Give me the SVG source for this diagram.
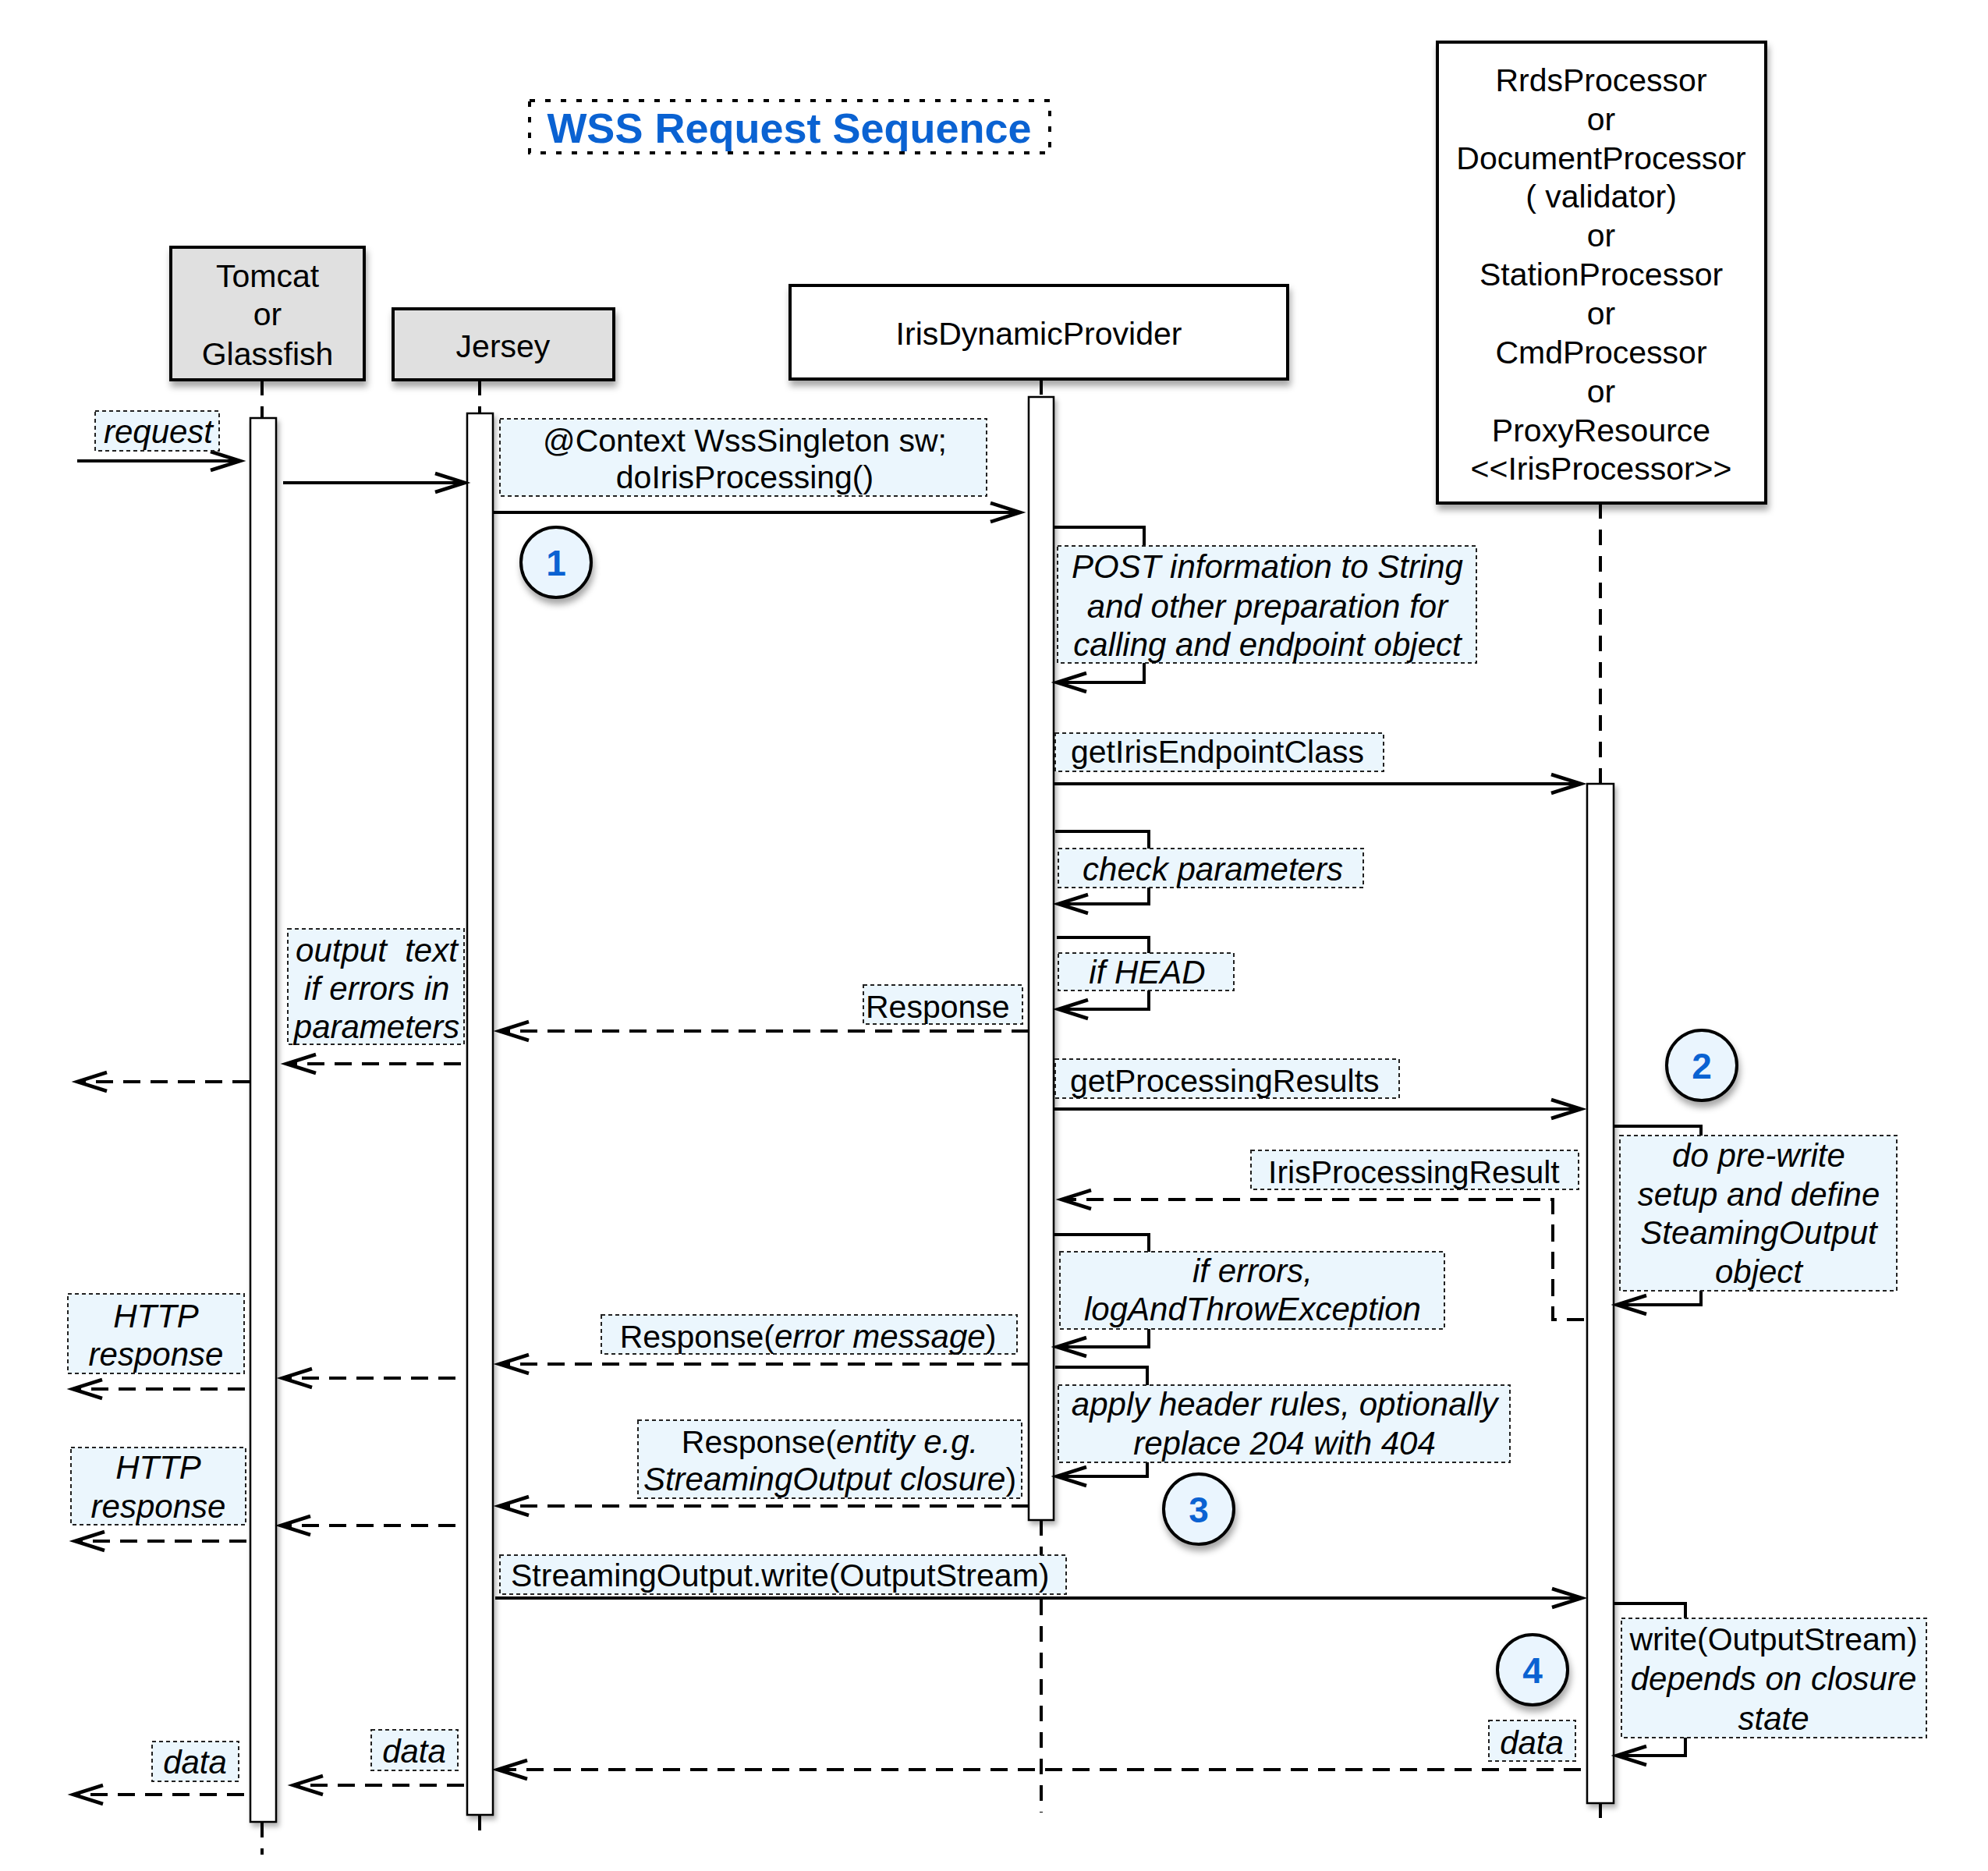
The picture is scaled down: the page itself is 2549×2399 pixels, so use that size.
<svg xmlns="http://www.w3.org/2000/svg" width="2549" height="2399" viewBox="0 0 2549 2399">
<style>
text{font-family:"Liberation Sans",Arial,Helvetica,sans-serif;font-size:41px;fill:#000}
.i{font-style:italic;font-size:42px}
.c{text-anchor:middle}
.num{font-weight:bold;font-size:46px;fill:#0a62d2;text-anchor:middle}
.lbl{fill:#ebf6fd;stroke:#222;stroke-width:2;stroke-dasharray:5 4}
.head{stroke:#000;stroke-width:4;filter:url(#sh)}
.bar{fill:#fff;stroke:#000;stroke-width:2.5;filter:url(#shb)}
.life{stroke:#000;stroke-width:4;stroke-dasharray:20 14;fill:none}
.msg{stroke:#000;stroke-width:4;fill:none;marker-end:url(#ah)}
.ret{stroke-dasharray:22 13}
.circ{fill:#eaf5fe;stroke:#000;stroke-width:4;filter:url(#sh)}
</style>
<defs>
<filter id="sh" x="-10%" y="-10%" width="125%" height="140%"><feDropShadow dx="2" dy="7" stdDeviation="4" flood-color="#000" flood-opacity="0.35"/></filter>
<filter id="shb" x="-60%" y="-2%" width="230%" height="105%"><feDropShadow dx="3" dy="5" stdDeviation="3" flood-color="#000" flood-opacity="0.3"/></filter>
<marker id="ah" markerUnits="userSpaceOnUse" markerWidth="50" markerHeight="40" viewBox="-45 -20 50 40" refX="0" refY="0" orient="auto" overflow="visible"><path d="M-38,-12 L0,0 L-38,12" fill="none" stroke="#000" stroke-width="4.5" stroke-dasharray="none"/></marker>
</defs>
<rect width="2549" height="2399" fill="#fff"/>

<g id="title">
<rect x="679" y="129" width="667" height="67" fill="none" stroke="#000" stroke-width="4" stroke-dasharray="7 13"/>
<text x="1012" y="183" class="c" style="font-weight:bold;font-size:54px;fill:#0a62d2">WSS Request Sequence</text>
</g>

<g id="lifelines">
<path class="life" d="M336,487 V536 M336,2336 V2378"/>
<path class="life" d="M615,487 V530 M615,2327 V2356"/>
<path class="life" d="M1335,486 V509 M1335,1949 V2324"/>
<path class="life" d="M2052,645 V1005 M2052,2312 V2331"/>
</g>

<g id="tomcat">
<rect class="head" x="219" y="317" width="248" height="170" fill="#e0e0e0"/>
<text x="343" y="368" class="c">Tomcat</text>
<text x="343" y="417" class="c">or</text>
<text x="343" y="468" class="c">Glassfish</text>
<rect class="bar" x="321" y="536" width="33" height="1800"/>
</g>

<g id="jersey">
<rect class="head" x="504" y="396" width="283" height="91" fill="#e0e0e0"/>
<text x="645" y="458" class="c">Jersey</text>
<rect class="bar" x="599" y="530" width="33" height="1797"/>
</g>

<g id="irisDynamicProvider">
<rect class="head" x="1013" y="366" width="638" height="120" fill="#fff"/>
<text x="1332" y="442" class="c">IrisDynamicProvider</text>
<rect class="bar" x="1319" y="509" width="32" height="1440"/>
</g>

<g id="irisProcessor">
<rect class="head" x="1843" y="54" width="421" height="591" fill="#fff"/>
<text x="2053" y="117" class="c">RrdsProcessor</text>
<text x="2053" y="167" class="c">or</text>
<text x="2053" y="217" class="c">DocumentProcessor</text>
<text x="2053" y="266" class="c">( validator)</text>
<text x="2053" y="316" class="c">or</text>
<text x="2053" y="366" class="c">StationProcessor</text>
<text x="2053" y="416" class="c">or</text>
<text x="2053" y="466" class="c">CmdProcessor</text>
<text x="2053" y="516" class="c">or</text>
<text x="2053" y="566" class="c">ProxyResource</text>
<text x="2053" y="615" class="c">&lt;&lt;IrisProcessor&gt;&gt;</text>
<rect class="bar" x="2035" y="1005" width="34" height="1307"/>
</g>

<g id="connectors">
<path class="msg" d="M99,591 H308"/>
<path class="msg" d="M363,619 H596"/>
<path class="msg" d="M632,657 H1308"/>
<path class="msg" d="M1351,676 H1467 V875 H1355"/>
<path class="msg" d="M1351,1005 H2027"/>
<path class="msg" d="M1353,1066 H1473 V1159 H1357"/>
<path class="msg" d="M1355,1202 H1473 V1294 H1357"/>
<path class="msg ret" d="M1319,1322 H640"/>
<path class="msg ret" d="M591,1364 H367"/>
<path class="msg ret" d="M320,1387 H99"/>
<path class="msg" d="M1351,1422 H2027"/>
<path class="msg" d="M2069,1444 H2181 V1673 H2073"/>
<path class="msg ret" d="M2031,1692 H1991 V1538 H1361"/>
<path class="msg" d="M1351,1583 H1473 V1727 H1355"/>
<path class="msg ret" d="M1319,1749 H640"/>
<path class="msg ret" d="M584,1767 H362"/>
<path class="msg ret" d="M314,1781 H93"/>
<path class="msg" d="M1353,1753 H1471 V1893 H1355"/>
<path class="msg ret" d="M1319,1931 H640"/>
<path class="msg ret" d="M584,1956 H360"/>
<path class="msg ret" d="M316,1976 H96"/>
<path class="msg" d="M635,2049 H2028"/>
<path class="msg" d="M2069,2056 H2161 V2251 H2073"/>
<path class="msg ret" d="M2027,2269 H638"/>
<path class="msg ret" d="M595,2289 H376"/>
<path class="msg ret" d="M313,2301 H94"/>
</g>

<g id="labels">
<g id="lbl-request"><rect class="lbl" x="122" y="527" width="159" height="51"/><text x="203" y="568" class="i c">request</text></g>
<g id="lbl-context"><rect class="lbl" x="641" y="537" width="624" height="99"/><text x="955" y="579" class="c">@Context WssSingleton sw;</text><text x="955" y="626" class="c">doIrisProcessing()</text></g>
<g id="lbl-post"><rect class="lbl" x="1356" y="700" width="537" height="150"/><text x="1625" y="741" class="i c">POST information to String</text><text x="1625" y="792" class="i c">and other preparation for</text><text x="1625" y="841" class="i c">calling and endpoint object</text></g>
<g id="lbl-getiris"><rect class="lbl" x="1353" y="940" width="421" height="49"/><text x="1373" y="978">getIrisEndpointClass</text></g>
<g id="lbl-check"><rect class="lbl" x="1357" y="1088" width="391" height="50"/><text x="1555" y="1129" class="i c">check parameters</text></g>
<g id="lbl-head"><rect class="lbl" x="1357" y="1222" width="225" height="48"/><text x="1471" y="1261" class="i c">if HEAD</text></g>
<g id="lbl-response"><rect class="lbl" x="1107" y="1263" width="204" height="50"/><text x="1110" y="1305">Response</text></g>
<g id="lbl-output"><rect class="lbl" x="369" y="1191" width="226" height="148"/><text x="483" y="1233" class="i c" xml:space="preserve">output  text</text><text x="483" y="1282" class="i c">if errors in</text><text x="483" y="1331" class="i c">parameters</text></g>
<g id="lbl-getproc"><rect class="lbl" x="1353" y="1358" width="441" height="50"/><text x="1372" y="1400">getProcessingResults</text></g>
<g id="lbl-irisresult"><rect class="lbl" x="1604" y="1475" width="420" height="50"/><text x="1626" y="1517">IrisProcessingResult</text></g>
<g id="lbl-prewrite"><rect class="lbl" x="2077" y="1456" width="355" height="199"/><text x="2255" y="1496" class="i c">do pre-write</text><text x="2255" y="1546" class="i c">setup and define</text><text x="2255" y="1595" class="i c">SteamingOutput</text><text x="2255" y="1645" class="i c">object</text></g>
<g id="lbl-iferrors"><rect class="lbl" x="1359" y="1605" width="493" height="99"/><text x="1606" y="1644" class="i c">if errors,</text><text x="1606" y="1693" class="i c">logAndThrowException</text></g>
<g id="lbl-resperr"><rect class="lbl" x="771" y="1686" width="533" height="50"/><text x="1036" y="1728" class="c">Response(<tspan class="i">error message</tspan>)</text></g>
<g id="lbl-http1"><rect class="lbl" x="87" y="1659" width="226" height="102"/><text x="200" y="1702" class="i c">HTTP</text><text x="200" y="1751" class="i c">response</text></g>
<g id="lbl-apply"><rect class="lbl" x="1357" y="1776" width="579" height="99"/><text x="1647" y="1815" class="i c">apply header rules, optionally</text><text x="1647" y="1865" class="i c">replace 204 with 404</text></g>
<g id="lbl-respent"><rect class="lbl" x="818" y="1821" width="492" height="100"/><text x="1064" y="1863" class="c">Response(<tspan class="i">entity e.g.</tspan></text><text x="1064" y="1911" class="c"><tspan class="i">StreamingOutput closure</tspan>)</text></g>
<g id="lbl-http2"><rect class="lbl" x="91" y="1856" width="224" height="99"/><text x="203" y="1896" class="i c">HTTP</text><text x="203" y="1946" class="i c">response</text></g>
<g id="lbl-sowrite"><rect class="lbl" x="641" y="1994" width="726" height="50"/><text x="655" y="2034">StreamingOutput.write(OutputStream)</text></g>
<g id="lbl-write"><rect class="lbl" x="2079" y="2075" width="391" height="153"/><text x="2274" y="2116" class="c">write(OutputStream)</text><text x="2274" y="2167" class="i c">depends on closure</text><text x="2274" y="2218" class="i c">state</text></g>
<g id="lbl-data3"><rect class="lbl" x="1909" y="2206" width="111" height="52"/><text x="1964" y="2249" class="i c">data</text></g>
<g id="lbl-data2"><rect class="lbl" x="476" y="2218" width="111" height="52"/><text x="531" y="2260" class="i c">data</text></g>
<g id="lbl-data1"><rect class="lbl" x="195" y="2233" width="111" height="51"/><text x="250" y="2274" class="i c">data</text></g>
</g>

<g id="step1"><circle class="circ" cx="713" cy="721" r="45"/><text x="713" y="738" class="num">1</text></g>
<g id="step2"><circle class="circ" cx="2182" cy="1366" r="45"/><text x="2182" y="1383" class="num">2</text></g>
<g id="step3"><circle class="circ" cx="1537" cy="1935" r="45"/><text x="1537" y="1952" class="num">3</text></g>
<g id="step4"><circle class="circ" cx="1965" cy="2141" r="45"/><text x="1965" y="2158" class="num">4</text></g>
</svg>
